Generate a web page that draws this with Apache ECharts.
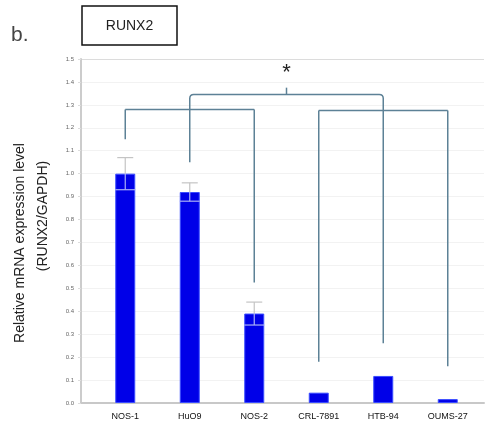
<!DOCTYPE html>
<html>
<head>
<meta charset="utf-8">
<script src="https://cdn.jsdelivr.net/npm/echarts@6/dist/echarts.min.js"></script>
<style>
  html, body { margin: 0; padding: 0; background: #fff; }
  #chart { width: 486px; height: 430px; }
</style>
</head>
<body>
<div id="chart"></div>
<script>
// Cell lines and relative RUNX2 expression (normalised to GAPDH)
const categories = ['NOS-1', 'HuO9', 'NOS-2', 'CRL-7891', 'HTB-94', 'OUMS-27'];
const expression = [1.0, 0.92, 0.39, 0.045, 0.118, 0.017];
const errors = [0.07, 0.04, 0.05, 0, 0, 0];
const yTicks = ['0.0', '0.1', '0.2', '0.3', '0.4', '0.5', '0.6', '0.7', '0.8', '0.9', '1.0', '1.1', '1.2', '1.3', '1.4', '1.5'];

// Significance brackets: lower end of each leg, and the bar heights
const leftGroup = [0, 1, 2];
const leftLegEnds = [1.15, 1.05, 0.525];
const rightGroup = [3, 4, 5];
const rightLegEnds = [0.18, 0.26, 0.16];
const bracketLevels = [1.28, 1.275, 1.345];
const starLevel = 1.45;

const chart = echarts.init(document.getElementById('chart'), null, { renderer: 'canvas' });
const BRACKET = '#5d8196';

function renderErrors(params, api) {
  const i = api.value(0);
  const v = api.value(1);
  const e = api.value(2);
  if (!e) return null;
  const top = api.coord([i, v + e]);
  const bot = api.coord([i, v - e]);
  const mid = api.coord([i, v]);
  const capW = 8;
  const barHalf = 10;
  return {
    type: 'group',
    children: [
      { type: 'line', shape: { x1: top[0], y1: top[1], x2: mid[0], y2: mid[1] }, style: { stroke: '#c4c4c4', lineWidth: 1.2 } },
      { type: 'line', shape: { x1: top[0] - capW, y1: top[1], x2: top[0] + capW, y2: top[1] }, style: { stroke: '#c4c4c4', lineWidth: 1.2 } },
      { type: 'line', shape: { x1: mid[0], y1: mid[1], x2: bot[0], y2: bot[1] }, style: { stroke: '#aab0f5', lineWidth: 1.2 } },
      { type: 'line', shape: { x1: bot[0] - barHalf, y1: bot[1], x2: bot[0] + barHalf, y2: bot[1] }, style: { stroke: '#aab0f5', lineWidth: 1.2 } }
    ]
  };
}

function renderBrackets(params, api) {
  if (params.dataIndex !== 0) return null;
  const children = [];
  const st = { stroke: BRACKET, lineWidth: 1.5, fill: null };
  function seg(a, b) {
    children.push({ type: 'line', shape: { x1: a[0], y1: a[1], x2: b[0], y2: b[1] }, style: st });
  }
  // left group
  const lA = api.coord([leftGroup[0], bracketLevels[0]]);
  const lB = api.coord([leftGroup[2], bracketLevels[0]]);
  seg(lA, lB);
  leftGroup.forEach((c, k) => seg(api.coord([c, bracketLevels[0]]), api.coord([c, leftLegEnds[k]])));
  // right group
  const rA = api.coord([rightGroup[0], bracketLevels[1]]);
  const rB = api.coord([rightGroup[2], bracketLevels[1]]);
  seg(rA, rB);
  rightGroup.forEach((c, k) => seg(api.coord([c, bracketLevels[1]]), api.coord([c, rightLegEnds[k]])));
  // top bracket joining the two groups, with rounded ends
  const tL = api.coord([1, bracketLevels[2]]);
  const tR = api.coord([4, bracketLevels[2]]);
  const dL = api.coord([1, bracketLevels[0]]);
  const dR = api.coord([4, bracketLevels[1]]);
  const r = 4;
  const pathData = 'M' + dL[0] + ' ' + dL[1] +
    ' L' + tL[0] + ' ' + (tL[1] + r) +
    ' Q' + tL[0] + ' ' + tL[1] + ' ' + (tL[0] + r) + ' ' + tL[1] +
    ' L' + (tR[0] - r) + ' ' + tR[1] +
    ' Q' + tR[0] + ' ' + tR[1] + ' ' + tR[0] + ' ' + (tR[1] + r) +
    ' L' + dR[0] + ' ' + dR[1];
  children.push({ type: 'path', shape: { pathData: pathData }, style: st });
  // centre stub and star
  const c2 = api.coord([2, bracketLevels[2]]);
  const c3 = api.coord([3, bracketLevels[2]]);
  const cx = (c2[0] + c3[0]) / 2;
  const stubTop = api.coord([2, bracketLevels[2] + 0.03]);
  children.push({ type: 'line', shape: { x1: cx, y1: c2[1], x2: cx, y2: stubTop[1] }, style: st });
  const star = api.coord([2, starLevel]);
  children.push({
    type: 'text',
    style: { x: cx, y: star[1] + 2, text: '*', fill: '#222', font: '22px "Liberation Sans", Arial', align: 'center', verticalAlign: 'middle' }
  });
  return { type: 'group', children: children };
}

const option = {
  animation: false,
  backgroundColor: '#fff',
  grid: [
    { left: 81, right: 2, top: 59, bottom: 27 },
    { left: 93, right: 6, top: 59, bottom: 27 }
  ],
  xAxis: [
    {
      gridIndex: 0, type: 'value', min: 0, max: 1,
      axisLine: { show: true, lineStyle: { color: '#c8c8c8', width: 2 } },
      axisTick: { show: false }, axisLabel: { show: false }, splitLine: { show: false }
    },
    {
      gridIndex: 1, type: 'category', data: categories,
      axisLine: { show: false }, axisTick: { show: false },
      axisLabel: { color: '#111', fontSize: 9, fontFamily: 'Liberation Sans, Arial', margin: 9 }
    }
  ],
  yAxis: [
    {
      gridIndex: 0, type: 'value', min: 0, max: 1.5, interval: 0.1,
      axisLine: { show: true, lineStyle: { color: '#cccccc', width: 2 } },
      axisTick: { show: true, length: 3, lineStyle: { color: '#dddddd' } },
      axisLabel: {
        color: '#666', fontSize: 6, fontFamily: 'Liberation Sans, Arial', margin: 7,
        formatter: (v) => yTicks[Math.round(v * 10)]
      },
      splitLine: {
        show: true,
        lineStyle: { color: ['#f2f2f2', '#f2f2f2', '#f2f2f2', '#f2f2f2', '#f2f2f2', '#f2f2f2', '#f2f2f2', '#f2f2f2', '#f2f2f2', '#f2f2f2', '#f2f2f2', '#f2f2f2', '#f2f2f2', '#f2f2f2', '#f2f2f2', '#dcdcdc'], width: 1 }
      }
    },
    {
      gridIndex: 1, type: 'value', min: 0, max: 1.5, interval: 0.1,
      axisLine: { show: false }, axisTick: { show: false }, axisLabel: { show: false }, splitLine: { show: false }
    }
  ],
  series: [
    {
      type: 'bar', xAxisIndex: 1, yAxisIndex: 1,
      data: expression, barWidth: 20,
      itemStyle: { color: '#0000e8', borderColor: '#3a4cff', borderWidth: 1 },
      z: 2
    },
    {
      type: 'custom', xAxisIndex: 1, yAxisIndex: 1,
      data: categories.map((c, i) => [i, expression[i], errors[i]]),
      renderItem: renderErrors, z: 3
    },
    {
      type: 'custom', xAxisIndex: 1, yAxisIndex: 1,
      data: [[0, 0]],
      renderItem: renderBrackets, z: 4
    }
  ],
  graphic: [
    { type: 'text', left: 11, top: 25, style: { text: 'b.', fill: '#444', font: '21px "Liberation Sans", Arial' } },
    { type: 'rect', shape: { x: 82, y: 6, width: 95, height: 39 }, style: { fill: '#fff', stroke: '#111', lineWidth: 1.5 } },
    { type: 'text', x: 129.5, y: 26, style: { text: 'RUNX2', fill: '#222', font: '14px "Liberation Sans", Arial', align: 'center', verticalAlign: 'middle' } },
    { type: 'text', x: 20, y: 243, rotation: Math.PI / 2, style: { text: 'Relative mRNA expression level', fill: '#222', font: '14px "Liberation Sans", Arial', align: 'center', verticalAlign: 'middle' } },
    { type: 'text', x: 43, y: 216, rotation: Math.PI / 2, style: { text: '(RUNX2/GAPDH)', fill: '#222', font: '14px "Liberation Sans", Arial', align: 'center', verticalAlign: 'middle' } }
  ]
};

chart.setOption(option);
</script>
</body>
</html>
